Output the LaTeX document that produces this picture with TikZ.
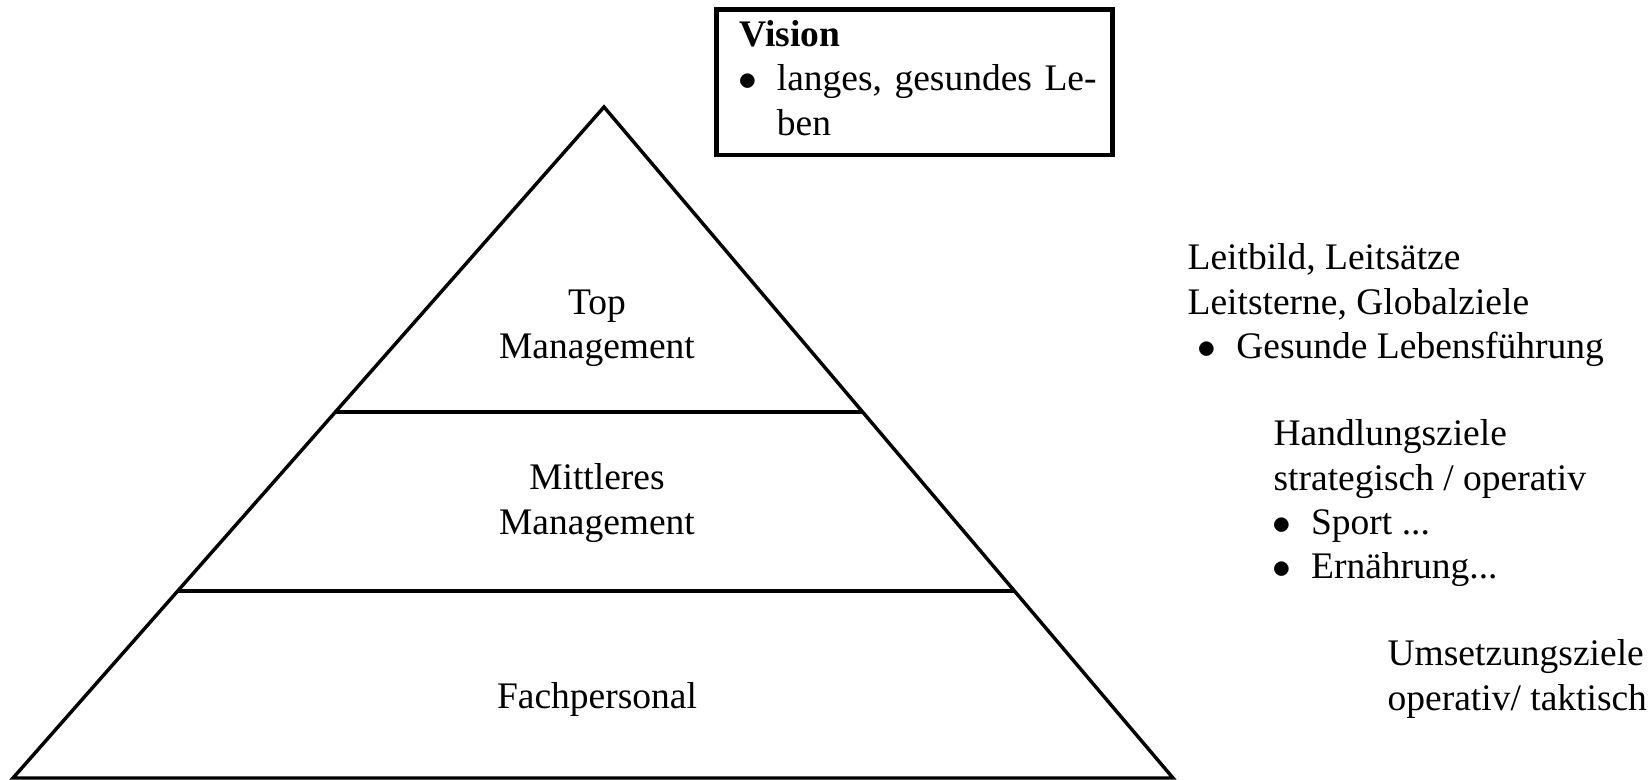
\documentclass[tikz,border=0pt]{standalone}
\usepackage{fontspec}
\setmainfont{Liberation Serif}
\usetikzlibrary{calc}
\newcommand{\blt}{\makebox[12pt][l]{\hspace*{-0.4pt}$\bullet$}}
\begin{document}
\begin{tikzpicture}[x=0.32pt,y=-0.32pt,
  every node/.style={inner sep=0pt,font=\fontsize{12}{14.2}\selectfont,execute at begin node=\strut,execute at end node=\strut},
  level/.style={align=center,anchor=north},
  goal/.style={align=left,anchor=north west}]
\useasboundingbox (0,0) rectangle (1649,780);
% pyramid with three levels
\coordinate (apex) at (604,107);
\coordinate (bl) at (13,778);
\coordinate (br) at (1173,778);
\draw[line width=1.1pt] (bl) -- (apex) -- (br) -- cycle;
\foreach \t in {0.5455,0.2787} \draw[line width=1.1pt] ($(bl)!\t!(apex)$) -- ($(br)!\t!(apex)$);
\node[level] (top) at (597,289) {Top\\Management};
\node[level] (mid) at (597,463) {Mittleres\\Management};
\node[level] (fach) at (597,677) {Fachpersonal};
% vision box
\node[draw,line width=1.45pt,inner xsep=7.4pt,inner ysep=2pt,text width=112pt,goal] (vision) at (714,7) {\textbf{Vision}\\\mbox{\blt langes, gesundes Le-}\\\hspace*{12pt}ben};
% goals on the right
\node[goal] (leit) at (1187,243) {Leitbild, Leitsätze\\Leitsterne, Globalziele\\\hspace*{3.6pt}\blt Gesunde Lebensführung};
\node[goal] (hand) at (1273,419) {Handlungsziele\\strategisch / operativ\\\blt Sport ...\\\blt Ernährung...};
\node[goal] (ums) at (1387,639) {Umsetzungsziele\\operativ/ taktisch};
\end{tikzpicture}
\end{document}
